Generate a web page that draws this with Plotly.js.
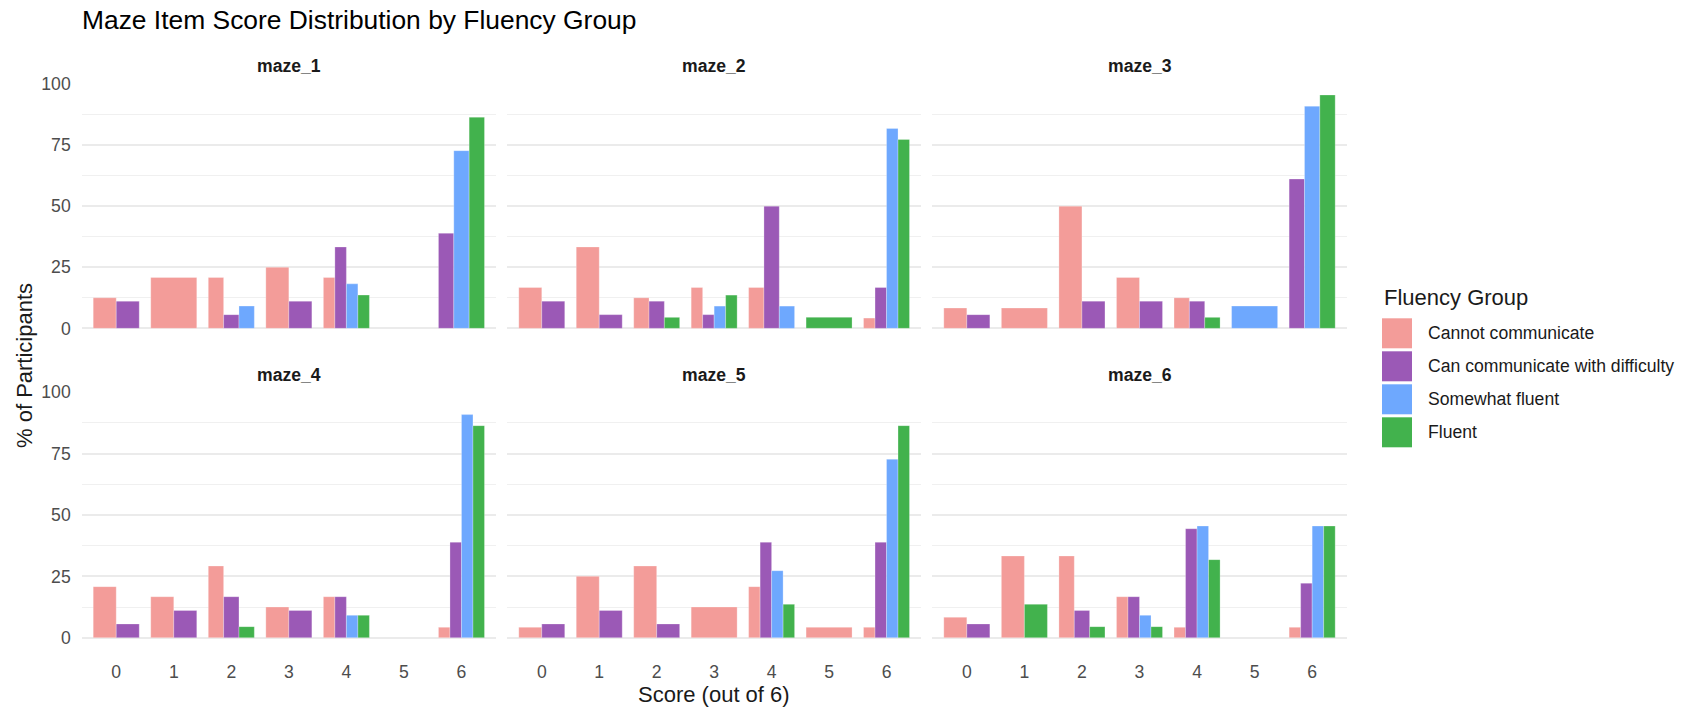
<!DOCTYPE html>
<html>
<head>
<meta charset="utf-8">
<script src="https://cdn.plot.ly/plotly-3.0.1.min.js"></script>
<style>html,body{margin:0;padding:0;background:#fff;}#chart{width:1688px;height:707px;}</style>
</head>
<body>
<div id="chart"></div>
<script>
// ---- Data (percent of participants) ----
const scores = [0, 1, 2, 3, 4, 5, 6];
const items = ["maze_1", "maze_2", "maze_3", "maze_4", "maze_5", "maze_6"];
const groups = ["Cannot communicate", "Can communicate with difficulty", "Somewhat fluent", "Fluent"];
const groupColors = ["#F39C99", "#9B59B6", "#6EA8FE", "#42B24D"];

// rows = maze_1..maze_6, columns = score 0..6
const cannotCommunicate = [
  [12.5, 20.8, 20.8, 25.0, 20.8, 0, 0],
  [16.7, 33.3, 12.5, 16.7, 16.7, 0, 4.2],
  [8.3, 8.3, 50.0, 20.8, 12.5, 0, 0],
  [20.8, 16.7, 29.2, 12.5, 16.7, 0, 4.2],
  [4.2, 25.0, 29.2, 12.5, 20.8, 4.2, 4.2],
  [8.3, 33.3, 33.3, 16.7, 4.2, 0, 4.2]
];
const withDifficulty = [
  [11.1, 0, 5.6, 11.1, 33.3, 0, 38.9],
  [11.1, 5.6, 11.1, 5.6, 50.0, 0, 16.7],
  [5.6, 0, 11.1, 11.1, 11.1, 0, 61.1],
  [5.6, 11.1, 16.7, 11.1, 16.7, 0, 38.9],
  [5.6, 11.1, 5.6, 0, 38.9, 0, 38.9],
  [5.6, 0, 11.1, 16.7, 44.4, 0, 22.2]
];
const somewhatFluent = [
  [0, 0, 9.1, 0, 18.2, 0, 72.7],
  [0, 0, 0, 9.1, 9.1, 0, 81.8],
  [0, 0, 0, 0, 0, 9.1, 90.9],
  [0, 0, 0, 0, 9.1, 0, 90.9],
  [0, 0, 0, 0, 27.3, 0, 72.7],
  [0, 0, 0, 9.1, 45.5, 0, 45.5]
];
const fluent = [
  [0, 0, 0, 0, 13.6, 0, 86.4],
  [0, 0, 4.5, 13.6, 0, 4.5, 77.3],
  [0, 0, 0, 0, 4.5, 0, 95.5],
  [0, 0, 4.5, 0, 9.1, 0, 86.4],
  [0, 0, 0, 0, 13.6, 0, 86.4],
  [0, 13.6, 4.5, 4.5, 31.8, 0, 45.5]
];
const yTicks = [0, 25, 50, 75, 100];
const seriesByGroup = [cannotCommunicate, withDifficulty, somewhatFluent, fluent];

// ---- Layout geometry ----
const W = 1688, H = 707;
const colPx = [[81.7, 496], [507.3, 921], [932.3, 1346.7]];
const rowPx = [[83.3, 340.0], [391.6, 649.4]];
const dodgeWidth = 0.8;
const yMax = 95.5, yExp = 0.05 * yMax;
const yRange = [-yExp, 100.275];

const FONT = "Liberation Sans, Arial, sans-serif";
const traces = [];
const layout = {
  width: W, height: H,
  margin: {l: 0, r: 0, t: 0, b: 0},
  paper_bgcolor: "#ffffff", plot_bgcolor: "rgba(0,0,0,0)",
  barmode: "overlay",
  showlegend: false,
  font: {family: FONT, color: "#1A1A1A"},
  title: {
    text: "Maze Item Score Distribution by Fluency Group",
    font: {family: FONT, size: 26.4, color: "#000000"},
    x: 82 / W, xanchor: "left", xref: "container",
    y: 1 - 20 / H, yanchor: "middle", yref: "container"
  },
  annotations: [],
  shapes: []
};

items.forEach((item, p) => {
  const col = p % 3, row = Math.floor(p / 3);
  const ax = p === 0 ? "" : String(p + 1);
  const xName = "xaxis" + ax, yName = "yaxis" + ax;
  layout[xName] = {
    domain: [colPx[col][0] / W, colPx[col][1] / W],
    anchor: "y" + ax,
    range: [-0.6, 6.6],
    tickmode: "array", tickvals: scores, ticktext: scores.map(String),
    showticklabels: row === 1,
    showgrid: false, zeroline: false, showline: false, ticks: "",
    ticklabelstandoff: 10,
    tickfont: {family: FONT, size: 17.6, color: "#4D4D4D"},
    fixedrange: true
  };
  layout[yName] = {
    domain: [1 - rowPx[row][1] / H, 1 - rowPx[row][0] / H],
    anchor: "x" + ax,
    range: yRange,
    tickmode: "array", tickvals: yTicks,
    showticklabels: col === 0,
    showgrid: true, gridcolor: "#EBEBEB", gridwidth: 2,
    minor: {tickmode: "array", tickvals: [12.5, 37.5, 62.5, 87.5], showgrid: true, gridcolor: "#F0F0F0", gridwidth: 1, ticks: ""},
    zeroline: false, showline: false, ticks: "",
    ticklabelstandoff: 10,
    tickfont: {family: FONT, size: 17.6, color: "#4D4D4D"},
    fixedrange: true
  };
  // strip label
  layout.annotations.push({
    text: "<b>" + item + "</b>", showarrow: false,
    xref: "paper", yref: "paper",
    x: (colPx[col][0] + colPx[col][1]) / 2 / W,
    y: 1 - (row === 0 ? 66.5 : 374.5) / H,
    xanchor: "center", yanchor: "middle",
    font: {family: FONT, size: 17.6, color: "#1A1A1A"}
  });

  // dodge: bars present at each score share the total width
  const present = scores.map((s, si) => groups.map((g, gi) => seriesByGroup[gi][p][si] > 0));
  groups.forEach((g, gi) => {
    const xs = [], ys = [], ws = [], offs = [];
    scores.forEach((s, si) => {
      const v = seriesByGroup[gi][p][si];
      if (!(v > 0)) return;
      const flags = present[si];
      const n = flags.filter(Boolean).length;
      const k = flags.slice(0, gi).filter(Boolean).length;
      const w = dodgeWidth / n;
      xs.push(s); ys.push(v); ws.push(w); offs.push(-dodgeWidth / 2 + k * w);
    });
    traces.push({
      type: "bar", name: g, legendgroup: g,
      x: xs, y: ys, width: ws, offset: offs,
      xaxis: "x" + ax, yaxis: "y" + ax,
      marker: {color: groupColors[gi], line: {width: 0.6, color: "rgba(255,255,255,0.45)"}},
      hoverinfo: "x+y+name"
    });
  });
});

// axis titles
layout.annotations.push({
  text: "Score (out of 6)", showarrow: false, xref: "paper", yref: "paper",
  x: (colPx[0][0] + colPx[2][1]) / 2 / W, y: 1 - 694 / H,
  xanchor: "center", yanchor: "middle",
  font: {family: FONT, size: 22, color: "#1A1A1A"}
});
layout.annotations.push({
  text: "% of Participants", showarrow: false, xref: "paper", yref: "paper",
  x: 24 / W, y: 1 - 366 / H, textangle: -90,
  xanchor: "center", yanchor: "middle",
  font: {family: FONT, size: 22, color: "#1A1A1A"}
});

// legend (drawn as shapes + text)
const legX = 1382, legTitleY = 297, legRow0 = 333.3, legStep = 33, keySize = 30;
layout.annotations.push({
  text: "Fluency Group", showarrow: false, xref: "paper", yref: "paper",
  x: legX / W, y: 1 - legTitleY / H, xanchor: "left", yanchor: "middle",
  font: {family: FONT, size: 22, color: "#1A1A1A"}
});
groups.forEach((g, gi) => {
  const cy = legRow0 + gi * legStep;
  layout.shapes.push({
    type: "rect", xref: "paper", yref: "paper",
    x0: legX / W, x1: (legX + keySize) / W,
    y0: 1 - (cy + keySize / 2) / H, y1: 1 - (cy - keySize / 2) / H,
    fillcolor: groupColors[gi], line: {width: 0}
  });
  layout.annotations.push({
    text: g, showarrow: false, xref: "paper", yref: "paper",
    x: (legX + 44) / W, y: 1 - cy / H, xanchor: "left", yanchor: "middle",
    font: {family: FONT, size: 17.6, color: "#1A1A1A"}
  });
});

Plotly.newPlot("chart", traces, layout, {displayModeBar: false, staticPlot: true});
</script>
</body>
</html>
